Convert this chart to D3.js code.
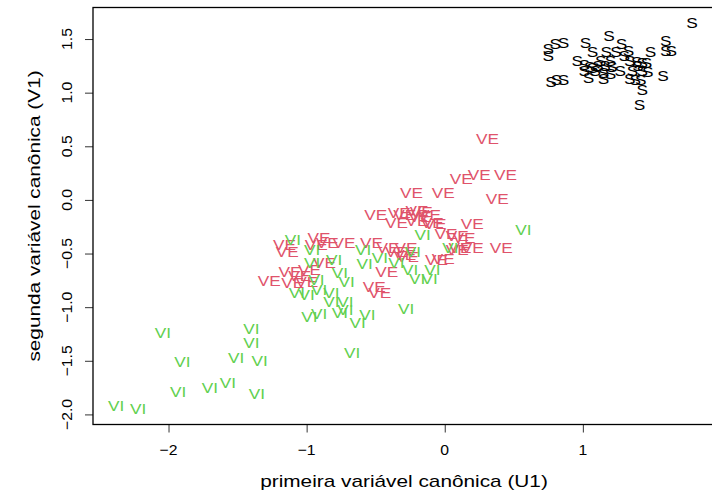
<!DOCTYPE html>
<html>
<head>
<meta charset="utf-8">
<script src="https://cdn.jsdelivr.net/npm/d3@7"></script>
<style>
  body { margin: 0; background: #fff; }
  svg { display: block; }
  text { font-family: "Liberation Sans", Arial, Helvetica, sans-serif; }
</style>
</head>
<body>
<svg id="chart" width="712" height="490"></svg>
<script>
// Canonical scores (U1, V1) for each group
const setosaU = [1.79,1.19,0.75,0.80,0.86,1.02,1.28,1.60,0.75,1.07,1.17,1.49,1.60,1.64,0.96,1.01,1.05,1.09,1.13,1.20,1.21,1.20,1.34,1.39,1.43,1.46,1.36,1.43,1.47,1.04,1.15,1.34,1.38,1.42,1.58,0.77,0.81,0.86,1.43,1.41,1.07,1.11,1.16,1.24,1.30,1.33,1.27,1.40,1.15,1.01];
const setosaV = [1.65,1.53,1.41,1.46,1.47,1.47,1.46,1.49,1.35,1.38,1.38,1.38,1.39,1.39,1.30,1.26,1.24,1.21,1.30,1.30,1.24,1.18,1.30,1.29,1.28,1.28,1.21,1.21,1.20,1.14,1.13,1.13,1.12,1.12,1.16,1.10,1.12,1.12,1.03,0.89,1.23,1.25,1.25,1.38,1.35,1.39,1.21,1.25,1.19,1.21];

const versicolorU = [0.31,0.25,0.44,0.12,-0.24,-0.01,0.38,-0.50,-0.29,-0.20,-0.18,-0.11,-0.35,-0.20,-0.09,0.20,0.01,0.09,0.14,-0.91,-1.16,-1.14,-0.85,-0.73,-0.53,-0.41,-0.28,0.09,0.20,0.41,-0.35,-0.29,-0.87,-0.27,-0.06,-0.01,-1.12,-0.98,-0.42,-1.27,-1.10,-1.00,-0.51,-0.47,-0.07,-0.33,-0.17,-1.05,0.11,-0.93];
const versicolorV = [0.57,0.24,0.24,0.20,0.07,0.07,0.01,-0.14,-0.14,-0.10,-0.16,-0.14,-0.21,-0.19,-0.21,-0.22,-0.31,-0.33,-0.35,-0.35,-0.42,-0.48,-0.40,-0.40,-0.40,-0.44,-0.44,-0.46,-0.44,-0.44,-0.48,-0.51,-0.58,-0.53,-0.56,-0.55,-0.67,-0.65,-0.67,-0.75,-0.77,-0.76,-0.81,-0.86,-0.22,-0.12,-0.11,-0.71,-0.44,-0.42];

const virginicaU = [0.57,-0.16,-1.10,-0.96,-0.59,-0.23,0.04,-0.96,-0.80,-0.58,-0.47,-0.35,-0.76,-0.25,-0.09,-0.93,-0.71,-0.20,-0.11,-1.07,-1.00,-0.91,-0.82,-0.82,-0.72,-0.28,-0.98,-0.91,-0.76,-0.72,-0.56,-0.63,-0.67,-2.04,-1.40,-1.40,-1.90,-1.51,-1.34,-1.93,-1.70,-1.57,-1.36,-2.38,-2.22];
const virginicaV = [-0.28,-0.32,-0.37,-0.46,-0.46,-0.48,-0.44,-0.58,-0.56,-0.59,-0.54,-0.58,-0.68,-0.65,-0.65,-0.74,-0.76,-0.73,-0.73,-0.86,-0.88,-0.84,-0.86,-0.95,-0.95,-1.01,-1.09,-1.06,-1.05,-1.02,-1.07,-1.14,-1.42,-1.24,-1.20,-1.33,-1.51,-1.47,-1.50,-1.79,-1.75,-1.70,-1.81,-1.92,-1.95];

const groupLabels = ["S", "VE", "VI"];
const groupColors = ["#000000", "#DF536B", "#61D04F"];

const xTicks = [-2, -1, 0, 1];
const yTicks = [-2.0, -1.5, -1.0, -0.5, 0.0, 0.5, 1.0, 1.5];

const xTitle = "primeira variável canônica (U1)";
const yTitle = "segunda variável canônica (V1)";

// Layout and type settings
const tickFont = 15, tickStretch = 1.05;
const titleFont = 16, titleStretch = 1.3;
const markFont = 15, markStretch = 1.15;
const plot = { left: 93, right: 715, top: 7.5, bottom: 424.5 };

const groups = [
  { label: groupLabels[0], color: groupColors[0], u: setosaU, v: setosaV },
  { label: groupLabels[1], color: groupColors[1], u: versicolorU, v: versicolorV },
  { label: groupLabels[2], color: groupColors[2], u: virginicaU, v: virginicaV }
];
const points = groups.flatMap(g => g.u.map((u, i) => ({ u, v: g.v[i], label: g.label, color: g.color })));

// Data range padded by 4% on each side
function padded(ext) { const d = (ext[1] - ext[0]) * 0.04; return [ext[0] - d, ext[1] + d]; }
const x = d3.scaleLinear().domain(padded(d3.extent(points, p => p.u))).range([plot.left, plot.right]);
const y = d3.scaleLinear().domain(padded(d3.extent(points, p => p.v))).range([plot.bottom, plot.top]);

const svg = d3.select("#chart");
const fmtY = v => d3.format(".1f")(v).replace("-", "\u2212");
const fmtX = v => d3.format("d")(v).replace("-", "\u2212");

// Axes (tick marks only; the frame is drawn separately)
const xAxis = svg.append("g")
  .attr("transform", `translate(0,${plot.bottom})`)
  .call(d3.axisBottom(x).tickValues(xTicks).tickSize(8).tickFormat(() => ""));
xAxis.select(".domain").remove();
xAxis.selectAll(".tick line").attr("stroke", "#333");

const yAxis = svg.append("g")
  .attr("transform", `translate(${plot.left},0)`)
  .call(d3.axisLeft(y).tickValues(yTicks).tickSize(8).tickFormat(() => ""));
yAxis.select(".domain").remove();
yAxis.selectAll(".tick line").attr("stroke", "#333");

// Tick labels
svg.append("g").selectAll("text").data(xTicks).join("text")
  .attr("transform", d => `translate(${x(d)},${455}) scale(${tickStretch},1)`)
  .attr("text-anchor", "middle")
  .attr("font-size", tickFont)
  .text(fmtX);

svg.append("g").selectAll("text").data(yTicks).join("text")
  .attr("transform", d => `translate(${72},${y(d)}) rotate(-90) scale(${tickStretch},1)`)
  .attr("text-anchor", "middle")
  .attr("font-size", tickFont)
  .text(fmtY);

// Axis titles
svg.append("text")
  .attr("transform", `translate(${(plot.left + plot.right) / 2},${487}) scale(${titleStretch},1)`)
  .attr("text-anchor", "middle")
  .attr("font-size", titleFont)
  .text(xTitle);

svg.append("text")
  .attr("transform", `translate(${40},${(plot.top + plot.bottom) / 2}) rotate(-90) scale(${titleStretch},1)`)
  .attr("text-anchor", "middle")
  .attr("font-size", titleFont)
  .text(yTitle);

// Group letters placed at each observation
svg.append("g").selectAll("text").data(points).join("text")
  .attr("transform", d => `translate(${x(d.u)},${y(d.v)}) scale(${markStretch},1)`)
  .attr("text-anchor", "middle")
  .attr("dy", "0.36em")
  .attr("font-size", markFont)
  .attr("fill", d => d.color)
  .text(d => d.label);

// Plot frame
svg.append("rect")
  .attr("x", plot.left).attr("y", plot.top)
  .attr("width", plot.right - plot.left).attr("height", plot.bottom - plot.top)
  .attr("fill", "none").attr("stroke", "#000").attr("stroke-width", 1.3);
</script>
</body>
</html>
